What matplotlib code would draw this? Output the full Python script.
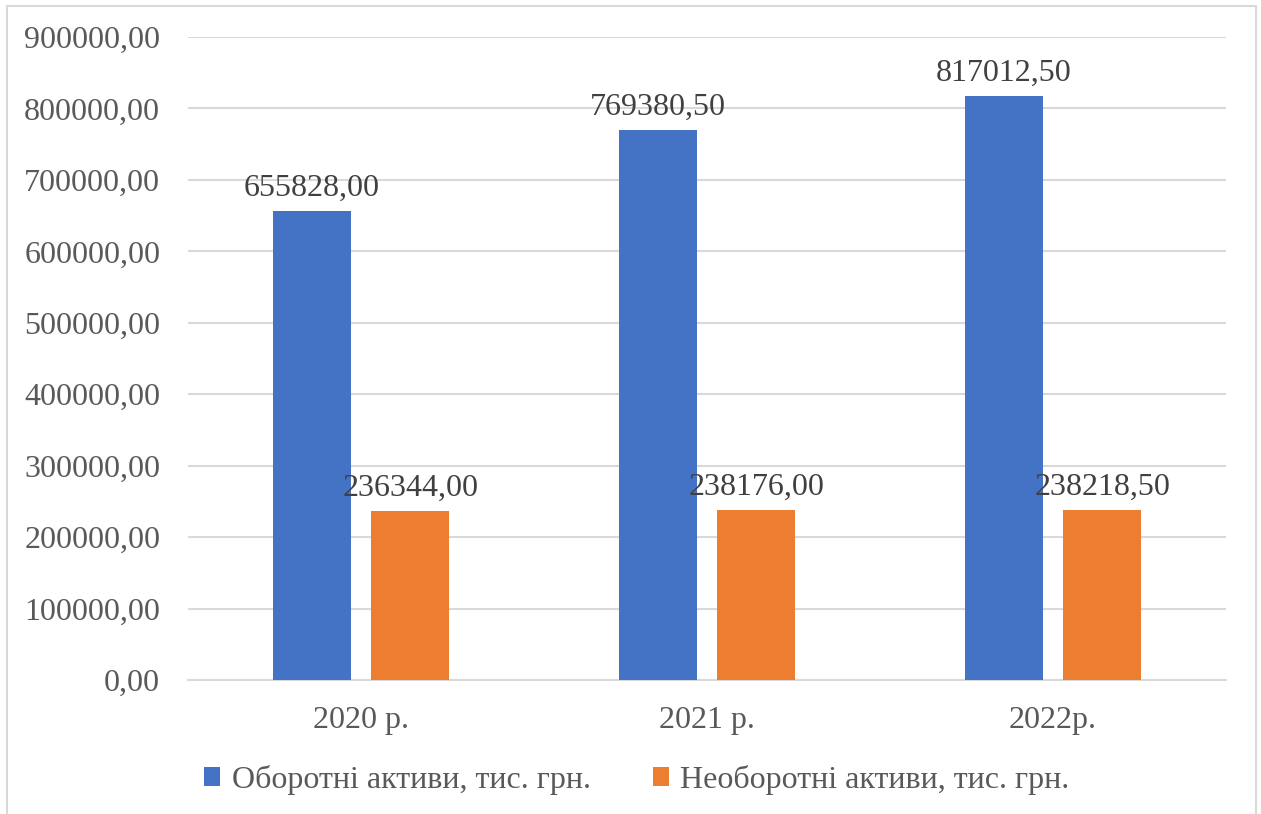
import matplotlib.pyplot as plt
import numpy as np
from matplotlib.patches import Rectangle

plt.rcParams['font.family'] = ['Liberation Serif', 'DejaVu Serif']

years = ['2020 р.', '2021 р.', '2022р.']
current_assets = [655828.00, 769380.50, 817012.50]
noncurrent_assets = [236344.00, 238176.00, 238218.50]
series_names = ['Оборотні активи, тис. грн.', 'Необоротні активи, тис. грн.']
colors = ['#4472C4', '#ED7D31']

def fmt(v):
    return f'{v:.2f}'.replace('.', ',')

fig = plt.figure(figsize=(12.61, 8.14), dpi=100)
ax = fig.add_axes([0.1491, 0.1646, 0.8232, 0.7899])

# light frame around the whole chart
fig.patches.append(Rectangle((0.0056, -0.02), 0.9905, 1.0126, transform=fig.transFigure,
                             fill=False, edgecolor='#d9d9d9', linewidth=1.5))

x = np.arange(len(years))
w = 0.225
off = 0.142
b1 = ax.bar(x - off, current_assets, w, color=colors[0], label=series_names[0], zorder=3)
b2 = ax.bar(x + off, noncurrent_assets, w, color=colors[1], label=series_names[1], zorder=3)

for bars, vals in [(b1, current_assets), (b2, noncurrent_assets)]:
    for rect, v in zip(bars, vals):
        ax.annotate(fmt(v), (rect.get_x() + rect.get_width() / 2, v),
                    xytext=(0, 6), textcoords='offset points',
                    ha='center', va='bottom', fontsize=23, color='#404040')

ax.set_xlim(-0.5, 2.5)
ax.set_ylim(0, 900000)
ax.set_yticks(np.arange(0, 900001, 100000))
ax.set_yticklabels([fmt(v) for v in np.arange(0, 900001, 100000)])
ax.set_xticks(x)
ax.set_xticklabels(years)
ax.tick_params(axis='both', length=0, labelsize=23, labelcolor='#595959')
ax.tick_params(axis='y', pad=20)
ax.tick_params(axis='x', pad=19)
ax.grid(axis='y', color='#d9d9d9', linewidth=1.5, zorder=0)
for s in ['top', 'right', 'left']:
    ax.spines[s].set_visible(False)
ax.spines['bottom'].set_color('#d9d9d9')
ax.spines['bottom'].set_linewidth(1.5)

fig.legend(loc='center', bbox_to_anchor=(0.505, 0.042), ncol=2, frameon=False,
           fontsize=23, labelcolor='#595959', handlelength=0.5, handleheight=0.5,
           handletextpad=0.35, columnspacing=1.95)

fig.savefig('out.png', dpi=100)
